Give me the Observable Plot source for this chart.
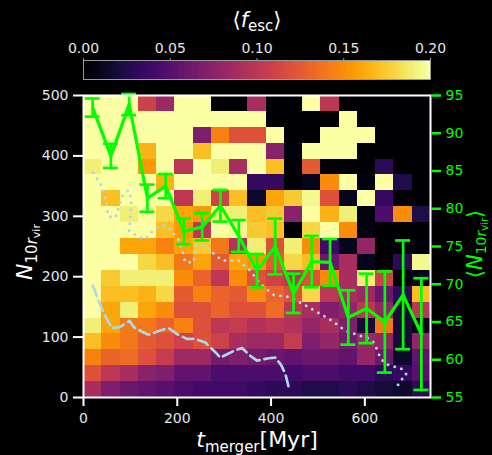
<!DOCTYPE html>
<html><head><meta charset="utf-8">
<script src="https://cdn.jsdelivr.net/npm/d3@7"></script>
<script src="https://cdn.jsdelivr.net/npm/@observablehq/plot@0.6"></script>
<style>
html,body{margin:0;padding:0;background:#000;}
#wrap{position:relative;width:492px;height:455px;overflow:hidden;background:#000;font-family:"DejaVu Sans",sans-serif;}
#wrap svg{position:absolute;left:0;top:0;overflow:visible;}
</style></head><body><div id="wrap"></div>
<script>
// ---- data ----
const T_MAX = 740, N_MAX = 500, NX = 19, NY = 19;
// mean f_esc per (t_merger, N) bin; rows from N=0 (bottom) upward, 19 columns in t
const fescGrid = [
  [0.09,0.07,0.06,0.055,0.05,0.045,0.04,0.04,0.04,0.035,0.03,0.03,0.025,0.025,0.03,0.025,0.02,0.015,0.03],
  [0.12,0.10,0.09,0.075,0.07,0.055,0.055,0.045,0.045,0.045,0.045,0.04,0.045,0.045,0.04,0.04,0.03,0.035,0.05],
  [0.145,0.13,0.135,0.12,0.105,0.085,0.085,0.065,0.07,0.065,0.06,0.055,0.06,0.06,0.055,0.08,0.06,0.015,0.055],
  [0.17,0.15,0.14,0.125,0.12,0.11,0.12,0.11,0.09,0.085,0.085,0.105,0.07,0.08,0.065,0.085,0.08,0.02,0.08],
  [0.19,0.16,0.14,0.14,0.13,0.145,0.12,0.10,0.105,0.095,0.10,0.095,0.08,0.09,0.07,0.02,0.14,0.02,0.01],
  [0.20,0.16,0.19,0.16,0.15,0.12,0.12,0.13,0.12,0.12,0.135,0.10,0.09,0.07,0.08,0.10,0.08,0.02,0.10],
  [0.20,0.17,0.17,0.165,0.18,0.125,0.145,0.13,0.125,0.15,0.13,0.12,0.18,0.10,0.09,0.085,0.06,0.03,0.17],
  [0.20,0.175,0.19,0.19,0.19,0.15,0.13,0.10,0.15,0.12,0.11,0.10,0.12,0.15,0.09,0.19,0.11,0,0.01],
  [0.20,0.20,0.20,0.18,0.17,0.14,0.16,0.125,0.16,0.155,0.125,0.18,0.17,0.06,0.09,0.01,0,0.03,0.195],
  [0.20,0.20,0.16,0.16,0.145,0.16,0.175,0.14,0.095,0.19,0.12,0.19,0.15,0.04,0.01,0.08,0,0,0],
  [0.20,0.20,0.20,0.20,0.17,0.155,0.10,0.20,0.195,0.175,0.17,0,0.18,0.20,0.15,0.005,0,0,0],
  [0.20,0.20,0.19,0.20,0.18,0.16,0.155,0.19,0.19,0.17,0.175,0.075,0.20,0.165,0.19,0.005,0.045,0.15,0.025],
  [0.20,0.17,0.20,0.20,0.20,0.10,0.19,0.11,0.17,0.015,0.16,0.175,0.195,0.12,0.01,0.20,0.035,0,0],
  [0.20,0.20,0.20,0.20,0.165,0.20,0.20,0.20,0.20,0.035,0.035,0,0.01,0.15,0.20,0.005,0.20,0.025,0],
  [0.19,0.20,0.20,0.155,0.20,0.10,0.20,0.19,0.09,0.20,0.17,0,0.125,0,0,0,0.03,0,0],
  [0.20,0.20,0.20,0.165,0.20,0.20,0.17,0.20,0.20,0.20,0.075,0.005,0.20,0.20,0.20,0,0,0,0],
  [0.20,0.20,0.20,0.20,0.20,0.20,0.07,0.145,0.12,0.12,0.20,0,0,0.20,0.20,0.20,0,0,0],
  [0.20,0.20,0.20,0.20,0.20,0.20,0.20,0.20,0.20,0.20,0,0,0,0,0.20,0,0,0,0],
  [0.20,0.20,0.20,0.11,0.085,0.20,0.20,0,0,0.09,0,0,0.20,0.10,0,0,0,0,0]
];
// mean N_10rvir per t_merger bin (right axis) and error
const meanN    = [93.4,87.0,93.8,81.4,83.0,77.0,77.6,80.4,76.4,71.8,75.0,68.8,73.0,72.9,65.6,66.8,65.0,68.6,63.4];
const meanNErr = [1.2,1.6,1.4,1.8,1.6,1.7,1.8,2.1,2.1,2.2,3.7,2.6,3.4,3.1,3.6,4.6,6.7,7.2,7.4];
// dashed light-blue curve
const dashedT = [20.1,32.0,46.3,60.6,78.3,98.2,106.7,124.7,138.7,160.1,181.4,199.4,220.7,238.4,259.8,281.1,291.8,320.2,338.1,355.8,370.1,394.9,409.2,421.3,430.5,437.6,438.4];
const dashedN = [185,160,135,115,117,127,117,109,104,110,115,105,97,97,91,75,66,77,82,69,61,65,66,54,39,17,11];
// dotted light-blue curve
const dottedT = [20.7,39.9,48.5,52.7,68.3,83.2,95.4,102.5,99,97.5,113.1,131.7,152.4,170.1,182.9,202.1,210,217.1,234.8,240.6,256.1,270.4,295.4,330.8,355.8,377.2,405.6,441.2,469.6,499.5,530.2,557.1,590.6,608.3,620.5,633.3,646.1,679.6,688.8,676,667.5];
const dottedN = [372,349,323,300,298,334,343,329,293,276,268,262,280,285,280,262,246,224,224,253,253,243,227,227,210,188,170,166,154,141,127,111,102,98,90,65,55,47,38,28,17];
const xTicks = [0,200,400,600];
const yTicks = [0,100,200,300,400,500];
const rightTicks = [55,60,65,70,75,80,85,90,95];
const R0 = 55, R1 = 95;
const cbTicks = [0,0.05,0.10,0.15,0.20];

// ---- derived tables ----
const toLeft = v => (v - R0) / (R1 - R0) * N_MAX;
const cells = [];
fescGrid.forEach((row, j) => row.forEach((v, i) => cells.push({
  x1: i * T_MAX / NX, x2: (i + 1) * T_MAX / NX,
  y1: j * N_MAX / NY, y2: (j + 1) * N_MAX / NY, v
})));
const capHalf = 16;
const green = meanN.map((m, i) => ({
  t: (i + 0.5) * T_MAX / NX, y: toLeft(m),
  lo: toLeft(m - meanNErr[i]), hi: toLeft(m + meanNErr[i])
}));
const dashed = dashedT.map((t, i) => ({t, n: dashedN[i]}));
const dotted = dottedT.map((t, i) => ({t, n: dottedN[i]}));

const colorOpt = {type: "linear", scheme: "inferno", domain: [0, 0.2], clamp: true};
const LB = "#add8e6", GR = "#00ff00", TXT = "#e6e6e6";

const main = Plot.plot({
  width: 492, height: 455,
  marginTop: 95, marginBottom: 58, marginLeft: 83, marginRight: 62,
  style: {background: "transparent", color: "#fff", fontFamily: "DejaVu Sans", fontSize: "14px", overflow: "visible"},
  x: {domain: [0, T_MAX]},
  y: {domain: [0, N_MAX]},
  color: colorOpt,
  marks: [
    Plot.rect(cells, {x1: "x1", x2: "x2", y1: "y1", y2: "y2", fill: "v", shapeRendering: "crispEdges"}),
    Plot.line(dashed, {x: "t", y: "n", stroke: LB, strokeWidth: 2.7, strokeDasharray: "11,5"}),
    Plot.line(dotted, {x: "t", y: "n", stroke: LB, strokeWidth: 3, strokeDasharray: "0,7", strokeLinecap: "round"}),
    Plot.ruleX(green, {x: "t", y1: "lo", y2: "hi", stroke: GR, strokeWidth: 2.7}),
    Plot.ruleY(green, {y: "lo", x1: d => d.t - capHalf, x2: d => d.t + capHalf, stroke: GR, strokeWidth: 2.7}),
    Plot.ruleY(green, {y: "hi", x1: d => d.t - capHalf, x2: d => d.t + capHalf, stroke: GR, strokeWidth: 2.7}),
    Plot.line(green, {x: "t", y: "y", stroke: GR, strokeWidth: 3.2, strokeLinejoin: "round"}),
    Plot.frame({stroke: "#fff", strokeWidth: 2}),
    Plot.axisX(xTicks, {tickSize: 9, tickPadding: 7, stroke: "#fff", fill: TXT, strokeWidth: 2, fontSize: 14, label: null}),
    Plot.axisY(yTicks, {tickSize: 10, tickPadding: 5, stroke: "#fff", fill: TXT, strokeWidth: 2, fontSize: 14, label: null}),
    Plot.axisY(rightTicks.map(toLeft), {anchor: "right", tickFormat: (d, i) => String(rightTicks[i]), tickSize: 10, tickPadding: 5, stroke: GR, fill: GR, strokeWidth: 2.5, fontSize: 14, label: null})
  ]
});

const cbSteps = d3.range(0, 200).map(i => ({a: i * 0.001, b: (i + 1) * 0.001}));
const cbar = Plot.plot({
  width: 492, height: 90,
  marginTop: 60, marginBottom: 11, marginLeft: 83, marginRight: 62,
  style: {background: "transparent", color: "#fff", fontFamily: "DejaVu Sans", fontSize: "14px", overflow: "visible"},
  x: {domain: [0, 0.2]},
  y: {domain: [0, 1], axis: null},
  color: colorOpt,
  marks: [
    Plot.rect(cbSteps, {x1: "a", x2: "b", y1: 0, y2: 1, fill: d => (d.a + d.b) / 2, shapeRendering: "crispEdges"}),
    Plot.frame({stroke: "#999", strokeWidth: 1}),
    Plot.axisX(cbTicks, {anchor: "top", tickFormat: d3.format(".2f"), tickSize: 3, tickPadding: 5, stroke: "#999", fill: TXT, fontSize: 14, label: null})
  ]
});

const wrap = document.getElementById("wrap");
wrap.appendChild(main);
wrap.appendChild(cbar);

// axis titles with math-style subscripts
const s = d3.select(main);
const xl = s.append("text").attr("x", 257).attr("y", 447).attr("text-anchor", "middle")
  .attr("fill", "#fff").style("font-family", "DejaVu Sans").style("font-size", "22px");
xl.append("tspan").attr("font-style", "italic").text("t");
xl.append("tspan").attr("font-size", "15px").attr("dy", 5).text("merger");
xl.append("tspan").attr("dy", -5).text("[Myr]");

const yl = s.append("text").attr("transform", "translate(32,252) rotate(-90)").attr("text-anchor", "middle")
  .attr("fill", "#fff").style("font-family", "DejaVu Sans").style("font-size", "22px");
yl.append("tspan").attr("font-style", "italic").text("N");
yl.append("tspan").attr("font-size", "15px").attr("dy", 5).text("10");
yl.append("tspan").attr("font-size", "15px").attr("font-style", "italic").text("r");
yl.append("tspan").attr("font-size", "11px").attr("dy", 3).text("vir");

const yr = s.append("text").attr("transform", "translate(482,244) rotate(-90)").attr("text-anchor", "middle")
  .attr("fill", GR).style("font-family", "DejaVu Sans").style("font-size", "21px");
yr.append("tspan").text("⟨");
yr.append("tspan").attr("font-style", "italic").text("N");
yr.append("tspan").attr("font-size", "14px").attr("dy", 4).text("10");
yr.append("tspan").attr("font-size", "14px").attr("font-style", "italic").text("r");
yr.append("tspan").attr("font-size", "10px").attr("dy", 2).text("vir");
yr.append("tspan").attr("dy", -6).text("⟩");

const c = d3.select(cbar);
const ct = c.append("text").attr("x", 257).attr("y", 27).attr("text-anchor", "middle")
  .attr("fill", "#fff").style("font-family", "DejaVu Sans").style("font-size", "21px");
ct.append("tspan").text("⟨");
ct.append("tspan").attr("font-style", "italic").text("f");
ct.append("tspan").attr("font-size", "15px").attr("dy", 4).text("esc");
ct.append("tspan").attr("dy", -4).text("⟩");
</script>
</body></html>
